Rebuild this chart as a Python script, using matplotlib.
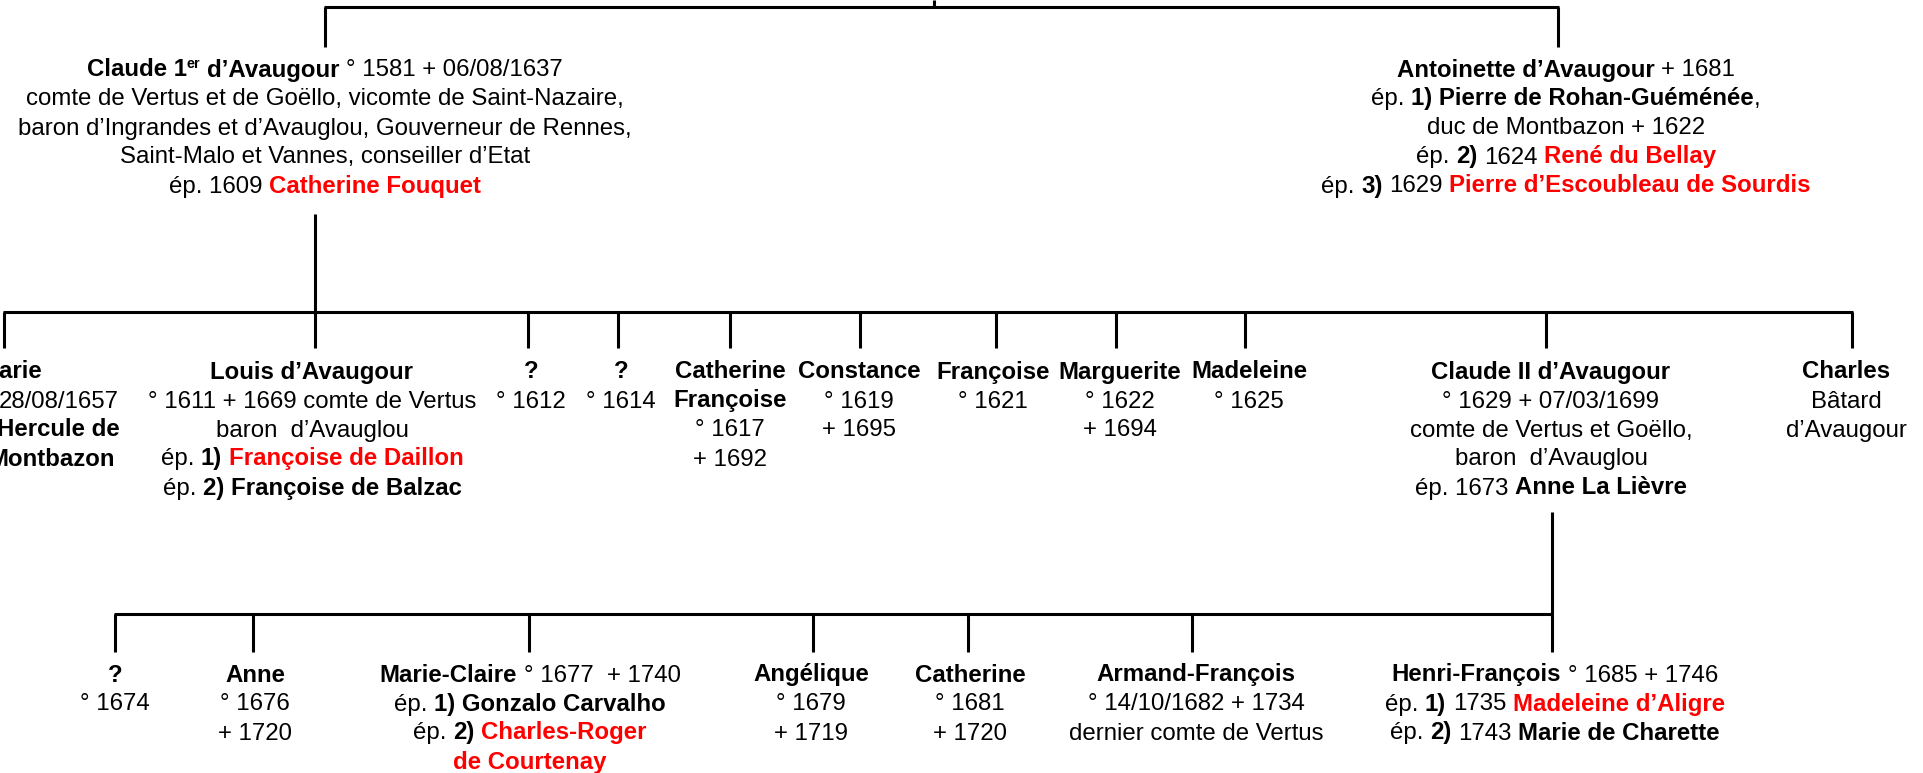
import matplotlib
matplotlib.use("Agg")
import matplotlib.pyplot as plt
from matplotlib.font_manager import FontProperties

# ---------------- content (text of each person, as styled segments) ----------------
# style codes: n = normal, b = bold, r = bold red, s = bold superscript
claude1 = [[("Claude 1", "b"), ("er", "s"), (" d’Avaugour", "b"), (" ° 1581 + 06/08/1637", "n")],
           [("comte de Vertus et de Goëllo, vicomte de Saint-Nazaire,", "n")],
           [("baron d’Ingrandes et d’Avauglou, Gouverneur de Rennes,", "n")],
           [("Saint-Malo et Vannes, conseiller d’Etat", "n")],
           [("ép. 1609 ", "n"), ("Catherine Fouquet", "r")]]
antoinette = [[("Antoinette d’Avaugour", "b"), (" + 1681", "n")],
              [("ép. ", "n"), ("1) Pierre de Rohan-Guéménée", "b"), (",", "n")],
              [("duc de Montbazon + 1622", "n")],
              [("ép. ", "n"), ("2)", "b"), (" 1624 ", "n"), ("René du Bellay", "r")],
              [("ép. ", "n"), ("3)", "b"), (" 1629 ", "n"), ("Pierre d’Escoubleau de Sourdis", "r")]]

marie = [[("Marie", "b")], [("28/08/1657", "n")], [("Hercule de", "b")], [("Montbazon", "b")]]
louis = [[("Louis d’Avaugour", "b")],
         [("° 1611 + 1669 comte de Vertus", "n")],
         [("baron  d’Avauglou", "n")],
         [("ép. ", "n"), ("1) ", "b"), ("Françoise de Daillon", "r")],
         [("ép. ", "n"), ("2) Françoise de Balzac", "b")]]
unk1612 = [[("?", "b")], [("° 1612", "n")]]
unk1614 = [[("?", "b")], [("° 1614", "n")]]
catherine_f = [[("Catherine", "b")], [("Françoise", "b")], [("° 1617", "n")], [("+ 1692", "n")]]
constance = [[("Constance", "b")], [("° 1619", "n")], [("+ 1695", "n")]]
francoise = [[("Françoise", "b")], [("° 1621", "n")]]
marguerite = [[("Marguerite", "b")], [("° 1622", "n")], [("+ 1694", "n")]]
madeleine = [[("Madeleine", "b")], [("° 1625", "n")]]
claude2 = [[("Claude II d’Avaugour", "b")],
           [("° 1629 + 07/03/1699", "n")],
           [("comte de Vertus et Goëllo,", "n")],
           [("baron  d’Avauglou", "n")],
           [("ép. 1673 ", "n"), ("Anne La Lièvre", "b")]]
charles = [[("Charles", "b")], [("Bâtard", "n")], [("d’Avaugour", "n")]]

unk1674 = [[("?", "b")], [("° 1674", "n")]]
anne = [[("Anne", "b")], [("° 1676", "n")], [("+ 1720", "n")]]
marie_claire = [[("Marie-Claire", "b"), (" ° 1677  + 1740", "n")],
                [("ép. ", "n"), ("1) Gonzalo Carvalho", "b")],
                [("ép. ", "n"), ("2) ", "b"), ("Charles-Roger", "r")],
                [("de Courtenay", "r")]]
angelique = [[("Angélique", "b")], [("° 1679", "n")], [("+ 1719", "n")]]
catherine = [[("Catherine", "b")], [("° 1681", "n")], [("+ 1720", "n")]]
armand = [[("Armand-François", "b")], [("° 14/10/1682 + 1734", "n")], [("dernier comte de Vertus", "n")]]
henri = [[("Henri-François", "b"), (" ° 1685 + 1746", "n")],
         [("ép. ", "n"), ("1)", "b"), (" 1735 ", "n"), ("Madeleine d’Aligre", "r")],
         [("ép. ", "n"), ("2)", "b"), (" 1743 ", "n"), ("Marie de Charette", "b")]]

gen1 = [claude1, antoinette]
gen2 = [marie, louis, unk1612, unk1614, catherine_f, constance, francoise,
        marguerite, madeleine, claude2, charles]
gen3 = [unk1674, anne, marie_claire, angelique, catherine, armand, henri]

# ---------------- layout (pixel positions) ----------------
W, H = 1923, 773
FS = 17.3
LINE = 29.0
BASE_OFF = 8.5
RED = "#FF0000"
FAMILY = "Liberation Sans"

gen1_text_x = [325, 1566]
gen1_drop_x = [325, 1558]
gen1_text_y = 68
gen1_bar_y, gen1_drop_bottom = 7, 47
root_x = 934

gen2_text_x = [None, 312, 531, 621, 730, 859, 993, 1120, 1249, 1551, 1846]
marie_right = [42, 119, 120, 115]
gen2_drop_x = [4, 315, 528, 618, 730, 860, 996, 1116, 1245, 1546, 1852]
gen2_text_y = 370
gen2_bar_y, gen2_drop_bottom = 312, 348
gen2_parent = (0, 315, 214)  # parent index in gen1, x, top y

gen3_text_x = [115, 255, 530, 811, 970, 1196, 1555]
gen3_drop_x = [115, 253, 529, 813, 968, 1192, 1552]
gen3_text_y = 673
gen3_bar_y, gen3_drop_bottom = 614, 652
gen3_parent = (9, 1552, 512)

# ---------------- drawing ----------------
fig = plt.figure(figsize=(W / 100, H / 100), dpi=100)
ax = fig.add_axes([0, 0, 1, 1])
ax.set_xlim(0, W)
ax.set_ylim(H, 0)
ax.axis("off")
renderer = fig.canvas.get_renderer()

_props = {}


def prop(style):
    if style not in _props:
        size = FS * 0.6 if style == "s" else FS
        weight = "normal" if style == "n" else "bold"
        _props[style] = FontProperties(family=FAMILY, weight=weight, size=size)
    return _props[style]


def width(s, style):
    p = prop(style)
    w1, _, _ = renderer.get_text_width_height_descent("|" + s + "|", p, ismath=False)
    w0, _, _ = renderer.get_text_width_height_descent("||", p, ismath=False)
    return w1 - w0


def draw_line(segs, x, yc, align="center"):
    total = sum(width(s, st) for s, st in segs)
    cx = x - total / 2 if align == "center" else x - total
    base = yc + BASE_OFF
    for s, st in segs:
        stripped = s.lstrip(" ")
        lead = s[: len(s) - len(stripped)]
        off = width(lead, st) if lead else 0
        txt = stripped.rstrip(" ")
        if txt:
            y = base - 8.5 if st == "s" else base
            ax.text(cx + off, y, txt, fontproperties=prop(st),
                    color=RED if st == "r" else "black",
                    ha="left", va="baseline")
        cx += width(s, st)


def draw_block(lines, x, y0, align="center"):
    for i, segs in enumerate(lines):
        xx = x[i] if isinstance(x, list) else x
        draw_line(segs, xx, y0 + i * LINE, align)


LW = 2.2


def vline(x, y0, y1):
    ax.plot([x, x], [y0, y1], color="black", lw=LW, solid_capstyle="butt")


def hline(x0, x1, y):
    ax.plot([x0 - 1, x1 + 1], [y, y], color="black", lw=LW, solid_capstyle="butt")


# generation 1
for person, x in zip(gen1, gen1_text_x):
    draw_block(person, x, gen1_text_y)
hline(min(gen1_drop_x), max(gen1_drop_x), gen1_bar_y)
vline(root_x, 0, gen1_bar_y)
for x in gen1_drop_x:
    vline(x, gen1_bar_y, gen1_drop_bottom)

# generation 2
for i, person in enumerate(gen2):
    if gen2_text_x[i] is None:
        draw_block(person, marie_right, gen2_text_y, align="right")
    else:
        draw_block(person, gen2_text_x[i], gen2_text_y)
hline(min(gen2_drop_x), max(gen2_drop_x), gen2_bar_y)
vline(gen2_parent[1], gen2_parent[2], gen2_bar_y)
for x in gen2_drop_x:
    vline(x, gen2_bar_y, gen2_drop_bottom)

# generation 3
for person, x in zip(gen3, gen3_text_x):
    draw_block(person, x, gen3_text_y)
hline(min(gen3_drop_x), max(gen3_drop_x), gen3_bar_y)
vline(gen3_parent[1], gen3_parent[2], gen3_bar_y)
for x in gen3_drop_x:
    vline(x, gen3_bar_y, gen3_drop_bottom)

fig.savefig("out.png", dpi=100, facecolor="white")
